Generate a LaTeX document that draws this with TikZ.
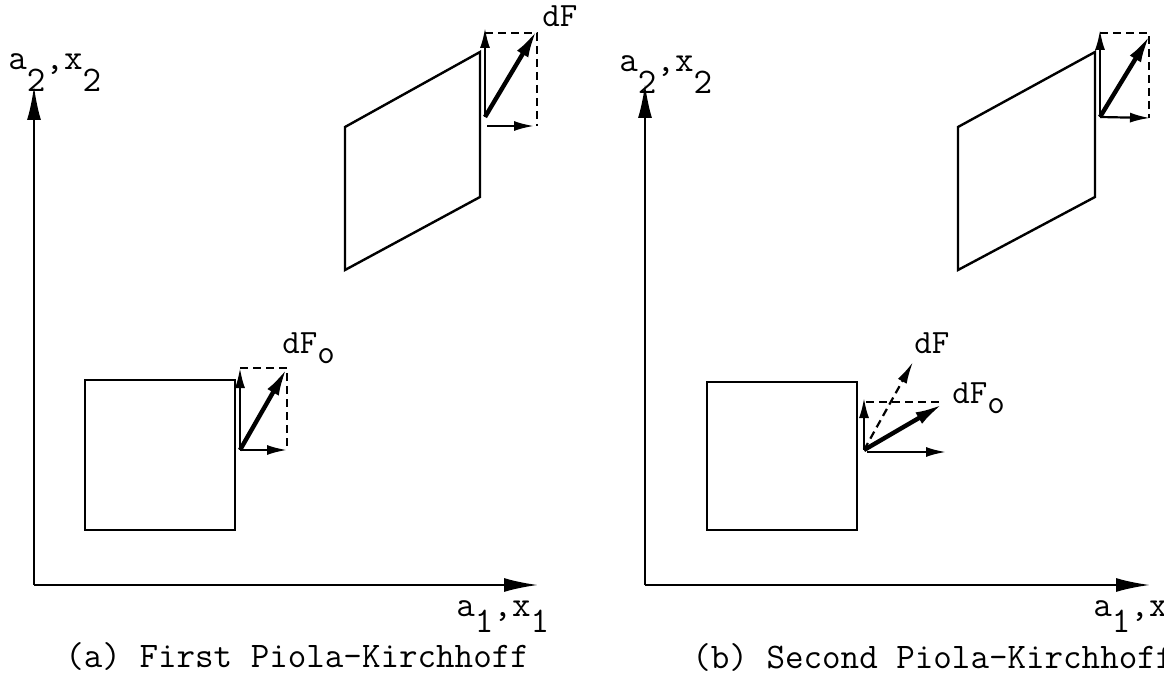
\documentclass[tikz,border=0pt]{standalone}
\usetikzlibrary{arrows.meta}
\tikzset{
  axis/.style={line width=1.2pt,-{Latex[length=17pt,width=7pt]}},
  edge/.style={line width=1.2pt},
  comp/.style={line width=1.1pt,-{Latex[length=10pt,width=5pt]}},
  force/.style={line width=2.2pt,-{Latex[length=14pt,width=6.5pt]}},
  guide/.style={line width=1.1pt,dash pattern=on 4pt off 2.5pt},
  lbl/.style={inner sep=0pt,anchor=base west,font=\ttfamily\fontsize{18}{21}\selectfont},
  vlbl/.style={lbl,font=\ttfamily\fontsize{17}{20}\selectfont}
}
\newcommand{\lowr}[2][0.6em]{\raisebox{-#1}{#2}}
\begin{document}
\begin{tikzpicture}[x=0.5pt,y=-0.5pt]
\useasboundingbox (0,0) rectangle (1164,674);
\clip (0,0) rectangle (1164,674);
\path coordinate (O) at (34,585)
coordinate (Y) at (34,86)
coordinate (X) at (538,585)
coordinate (S1) at (85,530)
coordinate (S2) at (235,530)
coordinate (S3) at (235,380)
coordinate (S4) at (85,380)
coordinate (P1) at (345,270)
coordinate (P2) at (480,197)
coordinate (P3) at (480,52)
coordinate (P4) at (345,127)
coordinate (V0) at (240,450)
coordinate (Vup) at (240,368)
coordinate (Vrt) at (287,450)
coordinate (Vtip) at (287,368)
coordinate (W0) at (485,117)
coordinate (Wup) at (485,28)
coordinate (Wtop) at (485,33)
coordinate (Wtip) at (537,30)
coordinate (Wcor) at (537,33)
coordinate (Wh) at (487,126)
coordinate (Wrt) at (534,126)
coordinate (Wbot) at (537,126)
node[lbl] (A2) at (8,70) {a\lowr{2},x\lowr{2}}
node[lbl] (A1) at (456,616) {a\lowr[0.45em]{1},x\lowr[0.45em]{1}}
node[lbl] (CapA) at (65,667) {(a) First Piola-Kirchhoff}
node[vlbl] (dFo) at (282,353) {dF\lowr[0.3em]{o}}
node[vlbl] (dF) at (542,27) {dF}
;
\draw[axis] (O) -- (Y);
\draw[axis] (O) -- (X);
\draw[edge] (S1) -- (S2) -- (S3) -- (S4) -- cycle;
\draw[edge] (P1) -- (P2) -- (P3) -- (P4) -- cycle;
\draw[guide] (Vup) -- (Vtip) -- (Vrt);
\draw[comp] (V0) -- (Vup);
\draw[comp] (V0) -- (Vrt);
\draw[force] (V0) -- (Vtip);
\draw[guide] (Wtop) -- (Wcor) -- (Wbot);
\draw[comp] (W0) -- (Wup);
\draw[comp] (Wh) -- (Wrt);
\draw[force] (W0) -- (Wtip);
\path coordinate (Ob) at (645,585)
coordinate (Yb) at (645,84)
coordinate (Xb) at (1150,585)
coordinate (T1) at (707,530)
coordinate (T2) at (857,530)
coordinate (T3) at (857,382)
coordinate (T4) at (707,382)
coordinate (Q1) at (958,270)
coordinate (Q2) at (1095,197)
coordinate (Q3) at (1095,52)
coordinate (Q4) at (958,127)
coordinate (U0) at (864,450)
coordinate (Uup) at (864,398)
coordinate (Uleft) at (866,402)
coordinate (Uright) at (942,402)
coordinate (Uh) at (867,452)
coordinate (Urt) at (946,452)
coordinate (Utip) at (943,404)
coordinate (Udf) at (913,362)
coordinate (Z0) at (1100,117)
coordinate (Zup) at (1100,30)
coordinate (Ztop) at (1100,33)
coordinate (Ztip) at (1150,35)
coordinate (Zcor) at (1149,33)
coordinate (Zbot) at (1149,118)
coordinate (Zrt) at (1150,118)
node[lbl] (B2) at (619,72) {a\lowr{2},x\lowr{2}}
node[lbl] (B1) at (1093,616) {a\lowr[0.45em]{1},x\lowr[0.45em]{1}}
node[lbl] (CapB) at (692,668) {(b) Second Piola-Kirchhoff}
node[vlbl] (dFb) at (914,353) {dF}
node[vlbl] (dFob) at (952,403) {dF\lowr[0.3em]{o}}
;
\draw[axis] (Ob) -- (Yb);
\draw[axis] (Ob) -- (Xb);
\draw[edge] (T1) -- (T2) -- (T3) -- (T4) -- cycle;
\draw[edge] (Q1) -- (Q2) -- (Q3) -- (Q4) -- cycle;
\draw[guide] (Uleft) -- (Uright);
\draw[guide,-{Latex[length=11pt,width=5pt]}] (U0) -- (Udf);
\draw[comp] (U0) -- (Uup);
\draw[comp] (Uh) -- (Urt);
\draw[force] (U0) -- (Utip);
\draw[guide] (Ztop) -- (Zcor) -- (Zbot);
\draw[comp] (Z0) -- (Zup);
\draw[comp] (Z0) -- (Zrt);
\draw[force] (Z0) -- (Ztip);
\end{tikzpicture}
\end{document}
